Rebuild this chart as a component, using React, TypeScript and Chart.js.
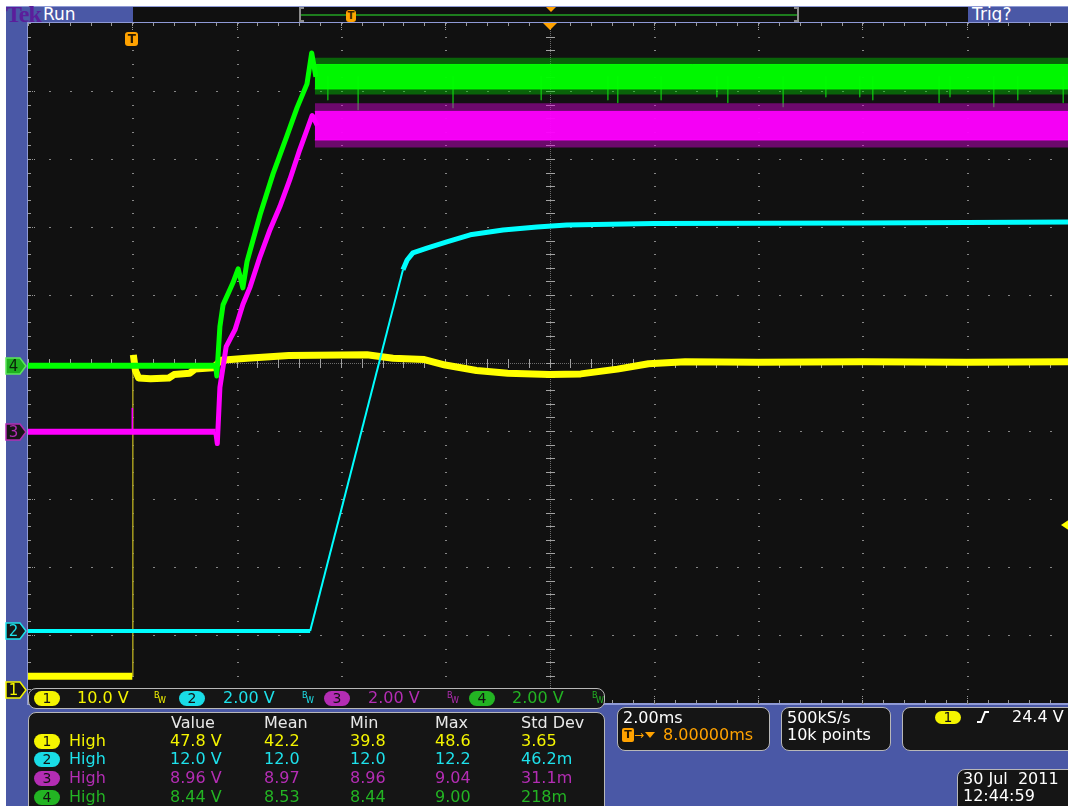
import React, { useEffect, useRef } from 'react';
import { Chart, registerables } from 'chart.js';

Chart.register(...registerables);

// ---------- axes: time in ms from trigger, vertical in divisions ----------
const timeMinMs = -2;
const timeMaxMs = 18;
const msPerDiv = 2;
const centerTimeMs = 8;
const divMin = -5;
const divMax = 5;

// ---------- channel settings ----------
const channelLabels = ['1', '2', '3', '4'];
const voltsPerDiv = [10, 2, 2, 2];
const positionDiv = [-4.81, -3.94, -1.01, -0.04];
const scaleLabels = ['10.0 V', '2.00 V', '2.00 V', '2.00 V'];

// ---------- Ch1 (yellow) ----------
const ch1PreTime = [-2, 0];
const ch1PreVolts = [2.05, 2.05];
const ch1EdgeTime = [0.01, 0.01];
const ch1EdgeVolts = [2.05, 49.3];
const ch1PostTime = [0.02, 0.06, 0.12, 0.35, 0.7, 0.8, 1.1, 1.2, 1.55, 1.7, 2.2, 3.0, 4.5, 5.0, 5.6, 6.0, 6.6, 7.2, 8.0, 8.6, 9.3, 9.9, 10.6, 12, 14, 16, 18];
const ch1PostVolts = [49.3, 47.0, 45.9, 45.8, 45.9, 46.4, 46.6, 47.2, 47.4, 48.5, 48.8, 49.2, 49.3, 48.8, 48.6, 47.8, 47.0, 46.6, 46.4, 46.5, 47.2, 48.0, 48.3, 48.2, 48.3, 48.2, 48.3];

// ---------- Ch2 (cyan) ----------
const ch2BaseTime = [-2, 3.41];
const ch2BaseVolts = [0, 0];
const ch2RiseTime = [3.41, 5.19];
const ch2RiseVolts = [0, 10.62];
const ch2SettleTime = [5.19, 5.27, 5.38, 5.65, 6.03, 6.48, 7.11, 7.76, 8.33, 10, 14, 18];
const ch2SettleVolts = [10.62, 10.91, 11.12, 11.26, 11.44, 11.65, 11.79, 11.88, 11.94, 11.98, 12.0, 12.03];

// ---------- Ch3 (magenta) ----------
const ch3BaseTime = [-2, 1.6];
const ch3BaseVolts = [0, 0];
const ch3SpikeTime = [0.0, 0.0];
const ch3SpikeVolts = [0, 0.7];
const ch3RiseTime = [1.6, 1.63, 1.68, 1.8, 1.97, 2.12, 2.26, 2.45, 2.64, 2.83, 3.02, 3.21, 3.35, 3.45, 3.55];
const ch3RiseVolts = [0, -0.35, 1.3, 2.5, 3.0, 3.74, 4.26, 5.15, 5.94, 6.62, 7.41, 8.29, 8.88, 9.3, 9.0];
const ch3BandTime = [3.5, 18];
const ch3BandHigh = [9.42, 9.42];
const ch3BandLow = [8.58, 8.58];
const ch3HaloHigh = [9.66, 9.66];
const ch3HaloLow = [8.36, 8.36];

// ---------- Ch4 (green) ----------
const ch4BaseTime = [-2, 1.6];
const ch4BaseVolts = [0, 0];
const ch4RiseTime = [1.6, 1.62, 1.68, 1.74, 1.93, 2.03, 2.12, 2.2, 2.45, 2.7, 2.96, 3.16, 3.35, 3.44, 3.52];
const ch4RiseVolts = [0, -0.3, 1.15, 1.79, 2.44, 2.85, 2.29, 3.06, 4.44, 5.65, 6.74, 7.59, 8.29, 9.2, 8.5];
const ch4BandTime = [3.5, 18];
const ch4BandHigh = [8.86, 8.86];
const ch4BandLow = [8.14, 8.14];
const ch4HaloHigh = [9.06, 9.06];
const ch4HaloLow = [7.98, 7.98];
const ch4BandCenter = 8.5;
const ch4SpikeTime = [3.75, 4.33, 6.15, 7.84, 9.12, 9.31, 10.14, 11.21, 11.42, 12.48, 13.3, 13.95, 14.2, 15.47, 15.68, 16.52, 16.98, 17.85];
const ch4SpikeVolts = [7.82, 7.53, 7.59, 7.82, 7.82, 7.74, 7.82, 7.91, 7.74, 7.62, 7.91, 7.91, 7.82, 7.74, 7.91, 7.62, 7.82, 7.74];

// ---------- readouts ----------
const measureHeaders = ['Value', 'Mean', 'Min', 'Max', 'Std Dev'];
const measureName = 'High';
const ch1Stats = ['47.8 V', '42.2', '39.8', '48.6', '3.65'];
const ch2Stats = ['12.0 V', '12.0', '12.0', '12.2', '46.2m'];
const ch3Stats = ['8.96 V', '8.97', '8.96', '9.04', '31.1m'];
const ch4Stats = ['8.44 V', '8.53', '8.44', '9.00', '218m'];
const timebaseText = '2.00ms';
const delayText = '8.00000ms';
const sampleRateText = '500kS/s';
const recordText = '10k points';
const triggerLevelText = '24.4 V';
const dateText = '30 Jul  2011';
const clockText = '12:44:59';

// ---------- styling ----------
const FONT = '"DejaVu Sans", Verdana, sans-serif';
const BLUE = '#4a58a6';
const LAV = '#8f9ad6';
const BOXBG = '#151515';
const ORANGE = '#ffa200';
const traceColors = ['#ffff00', '#00ffff', '#ff00ff', '#00ff00'];
const textColors = ['#f5f500', '#1ee1eb', '#b42db4', '#23b423'];
const plotTop = 23;
const plotLeft = 28;
const pxPerDivY = 68;
const pxPerDivX = 104.3;

const toDiv = (ch: number, v: number) => v / voltsPerDiv[ch] + positionDiv[ch];
const series = (ch: number, times: number[], volts: number[]) =>
  times.map((t, i) => ({ x: t, y: toDiv(ch, volts[i]) }));
const spikeSeries = (ch: number, times: number[], from: number, volts: number[]) =>
  times.flatMap((t, i) => [
    { x: t, y: toDiv(ch, from) },
    { x: t, y: toDiv(ch, volts[i]) },
    { x: t, y: null },
  ]);

const ds = (data: any[], color: string, width: number, order: number, extra: any = {}) => ({
  data,
  borderColor: color,
  backgroundColor: color,
  borderWidth: width,
  pointRadius: 0,
  fill: false,
  tension: 0,
  order,
  spanGaps: false,
  borderJoinStyle: 'round',
  ...extra,
});

const graticulePlugin = {
  id: 'graticule',
  beforeDatasetsDraw(chart: any) {
    const { ctx, chartArea: a } = chart;
    const xs = chart.scales.x;
    const ys = chart.scales.y;
    const X = (t: number) => Math.round(xs.getPixelForValue(t));
    const Y = (d: number) => Math.round(ys.getPixelForValue(d));
    ctx.save();
    ctx.fillStyle = '#111111';
    ctx.fillRect(a.left, a.top, a.right - a.left, a.bottom - a.top);
    // frame
    ctx.fillStyle = LAV;
    ctx.fillRect(a.left - 1, a.top - 1, a.right - a.left + 2, 1);
    ctx.fillRect(a.left - 1, a.top - 1, 1, a.bottom - a.top + 2);
    ctx.fillRect(a.left - 1, a.bottom, a.right - a.left + 2, 2);
    const nX = (timeMaxMs - timeMinMs) / msPerDiv;
    const nY = divMax - divMin;
    const minorX: number[] = [];
    const minorY: number[] = [];
    for (let k = 0; k <= nX * 5; k++) minorX.push(timeMinMs + (k * msPerDiv) / 5);
    for (let k = 0; k <= nY * 5; k++) minorY.push(divMin + k * 0.2);
    ctx.fillStyle = '#868686';
    for (let i = 1; i < nX; i++) {
      const t = timeMinMs + i * msPerDiv;
      if (Math.abs(t - centerTimeMs) < 1e-9) continue;
      const px = X(t);
      for (const d of minorY) ctx.fillRect(px, Y(d), 2, 1);
    }
    for (let j = 1; j < nY; j++) {
      const d = divMin + j;
      if (d === 0) continue;
      const py = Y(d);
      for (const t of minorX) ctx.fillRect(X(t), py, 2, 1);
    }
    // centre crosshair
    const cx = X(centerTimeMs);
    const cy = Y(0);
    ctx.fillStyle = '#6c6c6c';
    for (let py = a.top; py < a.bottom; py += 2) ctx.fillRect(cx, py, 1, 1);
    for (let px = a.left; px < a.right; px += 2) ctx.fillRect(px, cy, 1, 1);
    ctx.fillStyle = '#a2a2a2';
    for (const d of minorY) ctx.fillRect(cx - 4, Y(d), 9, 1);
    for (const t of minorX) ctx.fillRect(X(t), cy - 4, 1, 9);
    // edge ticks
    ctx.fillStyle = '#9a9a9a';
    for (const t of minorX) {
      ctx.fillRect(X(t), a.top, 1, 3);
      ctx.fillRect(X(t), a.bottom - 3, 1, 3);
    }
    for (const d of minorY) ctx.fillRect(a.left, Y(d), 3, 1);
    for (let i = 1; i < nX; i++) {
      const px = X(timeMinMs + i * msPerDiv);
      for (let k = 0; k < 4; k++) {
        ctx.fillRect(px, a.top + k * 2, 1, 1);
        ctx.fillRect(px, a.bottom - 1 - k * 2, 1, 1);
      }
    }
    for (let j = 1; j < nY; j++) {
      const py = Y(divMin + j);
      for (let k = 0; k < 4; k++) ctx.fillRect(a.left + k * 2, py, 1, 1);
    }
    ctx.restore();
  },
};

function Txt({ x, y, c = '#ffffff', s = 16, children }: any) {
  return (
    <div
      style={{
        position: 'absolute',
        left: x,
        top: y - 9,
        fontFamily: FONT,
        fontSize: s,
        lineHeight: '18px',
        color: c,
        whiteSpace: 'pre',
      }}
    >
      {children}
    </div>
  );
}

function Pill({ x, y, bg, label, w = 26, h = 15 }: any) {
  return (
    <div
      style={{
        position: 'absolute',
        left: x,
        top: y - h / 2,
        width: w,
        height: h,
        borderRadius: h / 2,
        background: bg,
        color: '#111',
        fontFamily: FONT,
        fontSize: 14,
        lineHeight: h + 'px',
        textAlign: 'center',
      }}
    >
      {label}
    </div>
  );
}

function Box({ x, y, w, h, r = 8 }: any) {
  return (
    <div
      style={{
        position: 'absolute',
        left: x,
        top: y,
        width: w,
        height: h,
        borderRadius: r,
        background: BOXBG,
        border: '1px solid #b8b8b8',
        boxSizing: 'border-box',
      }}
    />
  );
}

function BW({ x, c }: any) {
  return (
    <div style={{ position: 'absolute', left: x, top: 691, width: 12, height: 14, fontFamily: FONT, fontSize: 8, color: c }}>
      <span style={{ position: 'absolute', left: 0, top: 0 }}>B</span>
      <span style={{ position: 'absolute', left: 4, top: 5 }}>W</span>
    </div>
  );
}

function Marker({ ch }: any) {
  const cy = plotTop + (divMax - positionDiv[ch]) * pxPerDivY;
  const selected = ch === 3;
  const fill = selected ? '#1fb01f' : '#161616';
  const stroke = selected ? '#5ce65c' : textColors[ch];
  const tc = selected ? '#0b200b' : textColors[ch];
  return (
    <svg style={{ position: 'absolute', left: 5, top: cy - 9 }} width={23} height={18}>
      <polygon points="1,1 15,1 21,9 15,17 1,17" fill={fill} stroke={stroke} strokeWidth={1.5} />
      <text x={8.5} y={14} fontSize={15} fontFamily={FONT} textAnchor="middle" fill={tc}>
        {channelLabels[ch]}
      </text>
    </svg>
  );
}

export default function App() {
  const canvasRef = useRef<HTMLCanvasElement>(null);

  useEffect(() => {
    const Y = traceColors[0];
    const C = traceColors[1];
    const M = traceColors[2];
    const G = traceColors[3];
    const chart = new Chart(canvasRef.current as HTMLCanvasElement, {
      type: 'line',
      data: {
        datasets: [
          ds(series(0, ch1PreTime, ch1PreVolts), Y, 7, 40),
          ds(series(0, ch1EdgeTime, ch1EdgeVolts), '#a69c1e', 1.5, 41),
          ds(series(0, ch1PostTime, ch1PostVolts), Y, 7, 40),
          ds(series(1, ch2BaseTime, ch2BaseVolts), C, 4, 30),
          ds(series(1, ch2RiseTime, ch2RiseVolts), C, 2, 30),
          ds(series(1, ch2SettleTime, ch2SettleVolts), C, 5, 30),
          ds(series(3, ch4BaseTime, ch4BaseVolts), G, 6, 20),
          ds(series(3, ch4RiseTime, ch4RiseVolts), G, 5, 20),
          ds(series(3, ch4BandTime, ch4HaloHigh), 'rgba(0,0,0,0)', 0, 22, { fill: '+1', backgroundColor: 'rgba(0,200,0,0.45)' }),
          ds(series(3, ch4BandTime, ch4HaloLow), 'rgba(0,0,0,0)', 0, 22),
          ds(series(3, ch4BandTime, ch4BandHigh), G, 1, 20, { fill: '+1', backgroundColor: 'rgba(0,255,0,0.95)' }),
          ds(series(3, ch4BandTime, ch4BandLow), G, 1, 20),
          ds(spikeSeries(3, ch4SpikeTime, ch4BandCenter, ch4SpikeVolts), '#10d010', 1.2, 21),
          ds(series(2, ch3BaseTime, ch3BaseVolts), M, 6, 10),
          ds(series(2, ch3SpikeTime, ch3SpikeVolts), M, 1.5, 10),
          ds(series(2, ch3RiseTime, ch3RiseVolts), M, 5, 10),
          ds(series(2, ch3BandTime, ch3HaloHigh), 'rgba(0,0,0,0)', 0, 12, { fill: '+1', backgroundColor: 'rgba(220,0,220,0.45)' }),
          ds(series(2, ch3BandTime, ch3HaloLow), 'rgba(0,0,0,0)', 0, 12),
          ds(series(2, ch3BandTime, ch3BandHigh), M, 1, 10, { fill: '+1', backgroundColor: 'rgba(255,0,255,0.93)' }),
          ds(series(2, ch3BandTime, ch3BandLow), M, 1, 10),
        ],
      },
      options: {
        responsive: false,
        animation: false,
        events: [],
        layout: { padding: { left: plotLeft, top: plotTop, right: 1, bottom: 103 } },
        plugins: { legend: { display: false }, tooltip: { enabled: false } },
        scales: {
          x: { type: 'linear', min: timeMinMs, max: timeMaxMs, display: false },
          y: { type: 'linear', min: divMin, max: divMax, display: false },
        },
      },
      plugins: [graticulePlugin],
    } as any);
    return () => chart.destroy();
  }, []);

  const statRows = [ch1Stats, ch2Stats, ch3Stats, ch4Stats];
  const statCols = [170, 264, 350, 435, 521];
  const rowY = [741, 759, 778, 797];
  const barPillX = [34, 179, 324, 469];
  const barTextX = [77, 223, 368, 512];
  const barBwX = [154, 302, 447, 592];
  const pillColors = ['#f5f500', '#19dce6', '#b42db4', '#23b423'];
  const triggerX = plotLeft + ((0 - timeMinMs) / msPerDiv) * pxPerDivX;
  const centerX = plotLeft + ((centerTimeMs - timeMinMs) / msPerDiv) * pxPerDivX;

  return (
    <div style={{ position: 'absolute', left: 0, top: 0, width: 1068, height: 806, overflow: 'hidden', background: '#ffffff' }}>
      {/* blue frame */}
      <div style={{ position: 'absolute', left: 6, top: 6, width: 1062, height: 800, background: BLUE }} />
      <div style={{ position: 'absolute', left: 6, top: 6, width: 1062, height: 1, background: LAV }} />
      {/* top bar */}
      <div style={{ position: 'absolute', left: 6, top: 2, fontFamily: '"Liberation Serif", serif', fontWeight: 700, fontSize: 24, lineHeight: '24px', color: '#5b1e9b', letterSpacing: -1 }}>Tek</div>
      <Txt x={43} y={14} s={17}>Run</Txt>
      <div style={{ position: 'absolute', left: 133, top: 7, width: 835, height: 15, background: '#101010' }} />
      <div style={{ position: 'absolute', left: 299, top: 7, width: 2, height: 15, background: '#8c8c8c' }} />
      <div style={{ position: 'absolute', left: 299, top: 7, width: 5, height: 2, background: '#8c8c8c' }} />
      <div style={{ position: 'absolute', left: 299, top: 20, width: 5, height: 2, background: '#8c8c8c' }} />
      <div style={{ position: 'absolute', left: 797, top: 7, width: 2, height: 15, background: '#8c8c8c' }} />
      <div style={{ position: 'absolute', left: 794, top: 7, width: 5, height: 2, background: '#8c8c8c' }} />
      <div style={{ position: 'absolute', left: 794, top: 20, width: 5, height: 2, background: '#8c8c8c' }} />
      <div style={{ position: 'absolute', left: 301, top: 14, width: 496, height: 2, background: '#1e7d1e' }} />
      <div style={{ position: 'absolute', left: 346, top: 10, width: 10, height: 12, borderRadius: 3, background: ORANGE, color: '#3a2500', fontFamily: FONT, fontSize: 10, fontWeight: 700, lineHeight: '12px', textAlign: 'center' }}>T</div>
      <div style={{ position: 'absolute', left: 546, top: 7, width: 0, height: 0, borderLeft: '5px solid transparent', borderRight: '5px solid transparent', borderTop: '5px solid ' + ORANGE }} />
      <Txt x={972} y={14} s={17}>Trig?</Txt>

      <canvas ref={canvasRef} width={1072} height={806} style={{ position: 'absolute', left: 0, top: 0 }} />

      {/* graticule markers */}
      <div style={{ position: 'absolute', left: triggerX - 7, top: 32, width: 13, height: 14, borderRadius: 3, background: ORANGE, color: '#2a1a00', fontFamily: FONT, fontSize: 12, fontWeight: 700, lineHeight: '14px', textAlign: 'center' }}>T</div>
      <div style={{ position: 'absolute', left: centerX - 7, top: 23, width: 0, height: 0, borderLeft: '7px solid transparent', borderRight: '7px solid transparent', borderTop: '7px solid ' + ORANGE }} />
      <div style={{ position: 'absolute', left: 1061, top: 519, width: 0, height: 0, borderTop: '6px solid transparent', borderBottom: '6px solid transparent', borderRight: '9px solid ' + traceColors[0] }} />
      {[0, 1, 2, 3].map((ch) => (
        <Marker key={ch} ch={ch} />
      ))}

      {/* channel scale bar */}
      <Box x={28} y={688} w={577} h={21} />
      {[0, 1, 2, 3].map((ch) => (
        <React.Fragment key={ch}>
          <Pill x={barPillX[ch]} y={698} bg={pillColors[ch]} label={channelLabels[ch]} />
          <Txt x={barTextX[ch]} y={698} c={textColors[ch]}>{scaleLabels[ch]}</Txt>
          <BW x={barBwX[ch]} c={textColors[ch]} />
        </React.Fragment>
      ))}

      {/* measurement table */}
      <Box x={28} y={712} w={577} h={110} />
      {measureHeaders.map((h, i) => (
        <Txt key={h} x={statCols[i] + (i === 0 ? 1 : 0)} y={723} c="#e8e8e8">{h}</Txt>
      ))}
      {statRows.map((row, r) => (
        <React.Fragment key={r}>
          <Pill x={34} y={rowY[r]} bg={pillColors[r]} label={channelLabels[r]} />
          <Txt x={69} y={rowY[r]} c={textColors[r]}>{measureName}</Txt>
          {row.map((v, i) => (
            <Txt key={i} x={statCols[i]} y={rowY[r]} c={textColors[r]}>{v}</Txt>
          ))}
        </React.Fragment>
      ))}

      {/* timebase */}
      <Box x={617} y={707} w={153} h={44} />
      <Txt x={623} y={718}>{timebaseText}</Txt>
      <div style={{ position: 'absolute', left: 622, top: 728, width: 12, height: 14, borderRadius: 2, background: ORANGE, color: '#2a1a00', fontFamily: FONT, fontSize: 11, fontWeight: 700, lineHeight: '14px', textAlign: 'center' }}>T</div>
      <Txt x={634} y={735} c={ORANGE} s={12}>→</Txt>
      <div style={{ position: 'absolute', left: 645, top: 732, width: 0, height: 0, borderLeft: '5px solid transparent', borderRight: '5px solid transparent', borderTop: '6px solid ' + ORANGE }} />
      <Txt x={663} y={735} c={ORANGE}>{delayText}</Txt>

      {/* acquisition */}
      <Box x={781} y={707} w={110} h={44} />
      <Txt x={787} y={718}>{sampleRateText}</Txt>
      <Txt x={787} y={735}>{recordText}</Txt>

      {/* trigger */}
      <Box x={902} y={707} w={180} h={44} />
      <Pill x={935} y={717} bg={pillColors[0]} label={channelLabels[0]} h={13} />
      <svg style={{ position: 'absolute', left: 975, top: 709 }} width={16} height={16}>
        <polyline points="2,13 6,13 10,3 14,3" fill="none" stroke="#ffffff" strokeWidth={2} />
      </svg>
      <Txt x={1012} y={717}>{triggerLevelText}</Txt>

      {/* date */}
      <Box x={957} y={769} w={130} h={50} />
      <Txt x={963} y={779}>{dateText}</Txt>
      <Txt x={963} y={796}>{clockText}</Txt>
    </div>
  );
}
